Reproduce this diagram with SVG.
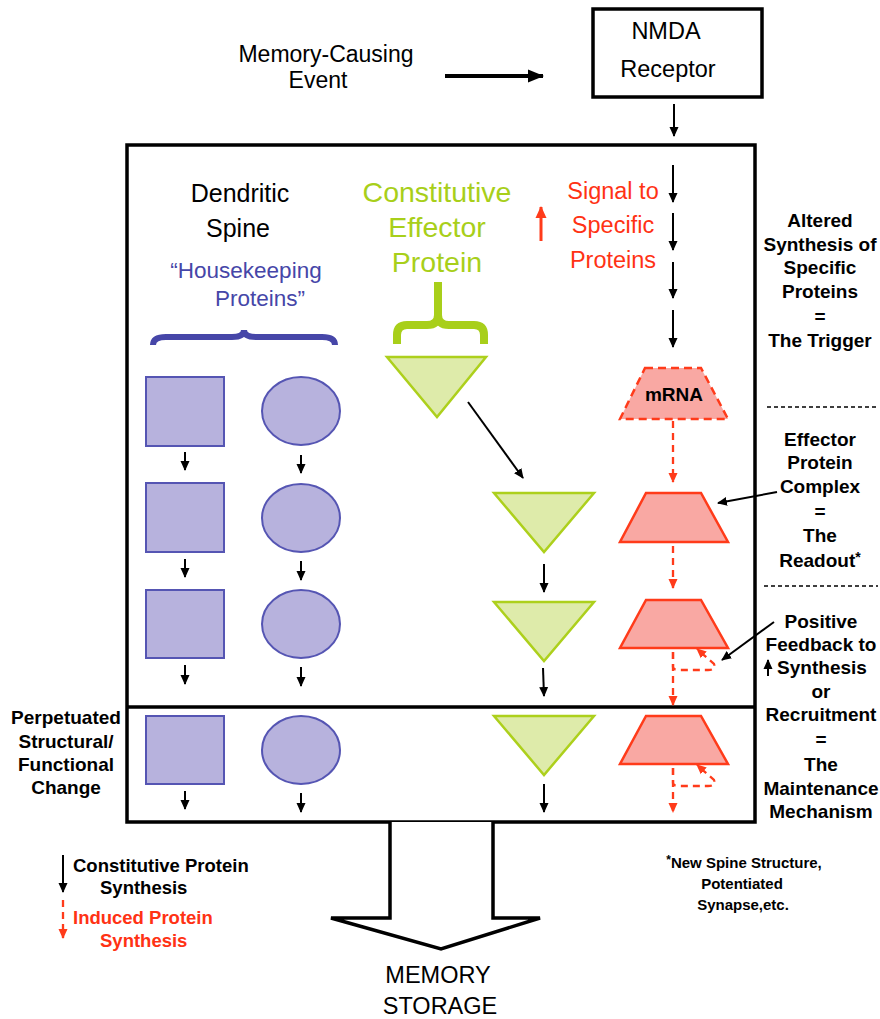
<svg xmlns="http://www.w3.org/2000/svg" width="880" height="1019" viewBox="0 0 880 1019">
<defs>
<marker id="ah" markerUnits="userSpaceOnUse" markerWidth="10" markerHeight="10" refX="9" refY="5" orient="auto"><path d="M0,0.5 L10,5 L0,9.5 z" fill="#000"/></marker>
<marker id="ahb" markerUnits="userSpaceOnUse" markerWidth="16" markerHeight="14" refX="15" refY="7" orient="auto"><path d="M0,0.5 L16,7 L0,13.5 z" fill="#000"/></marker>
<marker id="ahr" markerUnits="userSpaceOnUse" markerWidth="10" markerHeight="10" refX="9" refY="5" orient="auto"><path d="M0,0.5 L10,5 L0,9.5 z" fill="#FF3B1A"/></marker>
<marker id="ahr2" markerUnits="userSpaceOnUse" markerWidth="12" markerHeight="12" refX="11" refY="6" orient="auto"><path d="M0,0.5 L12,6 L0,11.5 z" fill="#FF3B1A"/></marker>
</defs>
<style>
.t{font-family:"Liberation Sans",Arial,sans-serif;text-anchor:middle}
.b{font-weight:bold;font-size:19px;fill:#000}
.box{fill:none;stroke:#000;stroke-width:3.5}
.sq{fill:#B7B2DD;stroke:#5555B3;stroke-width:2}
.tri{fill:#DEEBAA;stroke:#ADD01C;stroke-width:2.5}
.trap{fill:#F9A8A3;stroke:#FF3B1A;stroke-width:2.5}
.a{stroke:#000;stroke-width:2;fill:none;marker-end:url(#ah)}
.ra{stroke:#FF3B1A;stroke-width:2.3;fill:none;stroke-dasharray:7,5;marker-end:url(#ahr)}
.dl{stroke:#000;stroke-width:1.3;stroke-dasharray:4,3}
</style>
<rect width="880" height="1019" fill="#fff"/>

<g id="event">
<text class="t" x="326" y="62" font-size="23">Memory-Causing</text>
<text class="t" x="318" y="88" font-size="23">Event</text>
</g>
<g id="nmda">
<rect x="593" y="9" width="169" height="88" class="box" stroke-width="3"/>
<text class="t" x="666" y="39" font-size="23.5">NMDA</text>
<text class="t" x="668" y="77" font-size="23.5">Receptor</text>
</g>

<g id="mainbox">
<rect x="127" y="145" width="628" height="677" class="box"/>
<line x1="127" y1="707" x2="755" y2="707" stroke="#000" stroke-width="3.5"/>
</g>

<g id="headers">
<text class="t" x="240" y="202" font-size="25">Dendritic</text>
<text class="t" x="238" y="237" font-size="25">Spine</text>
<text class="t" x="246" y="278" font-size="22.5" fill="#4646A8">“Housekeeping</text>
<text class="t" x="260" y="306" font-size="22.5" fill="#4646A8">Proteins”</text>
<text class="t" x="437" y="202" font-size="28.5" fill="#A8CF1A">Constitutive</text>
<text class="t" x="437" y="237" font-size="28.5" fill="#A8CF1A">Effector</text>
<text class="t" x="437" y="272" font-size="28.5" fill="#A8CF1A">Protein</text>
<text class="t" x="613" y="199" font-size="23.5" fill="#FF3214">Signal to</text>
<text class="t" x="613" y="233" font-size="23.5" fill="#FF3214">Specific</text>
<text class="t" x="613" y="268" font-size="23.5" fill="#FF3214">Proteins</text>
<line x1="541" y1="241" x2="541" y2="207" stroke="#FF3B1A" stroke-width="3" marker-end="url(#ahr2)"/>
</g>

<g id="braces" fill="none">
<path d="M153,345 Q153,337 166,337 L232,337 Q244,337 244,330 Q244,337 256,337 L322,337 Q335,337 335,345" stroke="#4646A8" stroke-width="6"/>
<path d="M438,282 V315 Q438,325 427,325 H407 Q397,325 397,335 V344 M438,315 Q438,325 449,325 H474 Q484,325 484,335 V344" stroke="#A8CF1A" stroke-width="8"/>
</g>

<g id="squares">
<rect class="sq" x="146" y="377" width="78" height="69"/>
<rect class="sq" x="146" y="483" width="78" height="69"/>
<rect class="sq" x="146" y="590" width="78" height="68"/>
<rect class="sq" x="146" y="716" width="78" height="68"/>
</g>
<g id="ellipses">
<ellipse class="sq" cx="301" cy="411" rx="39" ry="34"/>
<ellipse class="sq" cx="301" cy="518" rx="39" ry="34"/>
<ellipse class="sq" cx="301" cy="624" rx="39" ry="34"/>
<ellipse class="sq" cx="301" cy="750" rx="39" ry="34"/>
</g>
<g id="triangles">
<polygon class="tri" points="387,357 486,357 437,417"/>
<polygon class="tri" points="494,493 594,493 544,552"/>
<polygon class="tri" points="494,602 594,602 544,661"/>
<polygon class="tri" points="494,716 594,716 544,775"/>
</g>
<g id="traps">
<polygon class="trap" points="645,368 701,368 728,419 620,419" stroke-dasharray="8,5"/>
<polygon class="trap" points="646,493 701,493 728,542 620,542"/>
<polygon class="trap" points="646,600 701,600 728,648 620,648"/>
<polygon class="trap" points="646,716 701,716 728,764 620,764"/>
<text class="t b" x="674" y="401">mRNA</text>
</g>

<g id="connectors">
<line x1="445" y1="76" x2="543" y2="76" stroke="#000" stroke-width="4" marker-end="url(#ahb)"/>
<line class="a" x1="674" y1="104" x2="674" y2="136"/>
<line class="a" x1="673" y1="165" x2="673" y2="202"/>
<line class="a" x1="673" y1="213" x2="673" y2="250"/>
<line class="a" x1="673" y1="262" x2="673" y2="298"/>
<line class="a" x1="673" y1="310" x2="673" y2="347"/>
<line class="a" x1="468" y1="402" x2="523" y2="478"/>
<line class="a" x1="544" y1="564" x2="544" y2="592"/>
<line class="a" x1="543" y1="668" x2="544" y2="696"/>
<line class="a" x1="544" y1="784" x2="544" y2="812"/>
<line class="a" x1="185" y1="452" x2="185" y2="470"/>
<line class="a" x1="185" y1="559" x2="185" y2="577"/>
<line class="a" x1="185" y1="665" x2="185" y2="684"/>
<line class="a" x1="185" y1="791" x2="185" y2="809"/>
<line class="a" x1="301" y1="455" x2="301" y2="473"/>
<line class="a" x1="301" y1="561" x2="301" y2="580"/>
<line class="a" x1="301" y1="667" x2="301" y2="686"/>
<line class="a" x1="301" y1="793" x2="301" y2="812"/>
<line class="ra" x1="673" y1="421" x2="673" y2="482"/>
<line class="ra" x1="673" y1="546" x2="673" y2="588"/>
<line class="ra" x1="673" y1="652" x2="673" y2="705"/>
<line class="ra" x1="673" y1="768" x2="673" y2="812"/>
<path class="ra" d="M673,652 V667 Q673,670 680,670 H708 Q716,670 714,664 L697,649"/>
<path class="ra" d="M673,768 V783 Q673,786 680,786 H708 Q716,786 714,780 L697,765"/>
<line class="a" x1="777" y1="492" x2="718" y2="503"/>
<line class="a" x1="774" y1="622" x2="722" y2="660"/>
<line class="dl" x1="767" y1="407" x2="878" y2="407"/>
<line class="dl" x1="764" y1="586" x2="878" y2="586"/>
</g>

<g id="trigger">
<text class="t b" x="820" y="227">Altered</text>
<text class="t b" x="820" y="251">Synthesis of</text>
<text class="t b" x="820" y="274">Specific</text>
<text class="t b" x="820" y="298">Proteins</text>
<text class="t b" x="820" y="323">=</text>
<text class="t b" x="820" y="347">The Trigger</text>
</g>
<g id="readout">
<text class="t b" x="820" y="446">Effector</text>
<text class="t b" x="820" y="469">Protein</text>
<text class="t b" x="820" y="493">Complex</text>
<text class="t b" x="820" y="518">=</text>
<text class="t b" x="820" y="542">The</text>
<text class="t b" x="820" y="567">Readout<tspan font-size="14" dy="-5">*</tspan></text>
</g>
<g id="maintenance">
<text class="t b" x="821" y="628">Positive</text>
<text class="t b" x="821" y="651">Feedback to</text>
<line x1="768" y1="676" x2="768" y2="660" stroke="#000" stroke-width="2" marker-end="url(#ah)"/>
<text class="t b" x="822" y="674">Synthesis</text>
<text class="t b" x="821" y="698">or</text>
<text class="t b" x="821" y="721">Recruitment</text>
<text class="t b" x="821" y="746">=</text>
<text class="t b" x="821" y="771">The</text>
<text class="t b" x="821" y="795">Maintenance</text>
<text class="t b" x="821" y="818">Mechanism</text>
</g>
<g id="perpetuated">
<text class="t b" x="66" y="724">Perpetuated</text>
<text class="t b" x="66" y="748">Structural/</text>
<text class="t b" x="66" y="771">Functional</text>
<text class="t b" x="66" y="794">Change</text>
</g>

<g id="legend">
<line class="a" x1="63" y1="855" x2="63" y2="892"/>
<line class="ra" x1="63" y1="900" x2="63" y2="938"/>
<text font-family="Liberation Sans,Arial,sans-serif" font-weight="bold" font-size="18.5" x="73" y="872">Constitutive Protein</text>
<text font-family="Liberation Sans,Arial,sans-serif" font-weight="bold" font-size="18.5" x="100" y="894">Synthesis</text>
<text font-family="Liberation Sans,Arial,sans-serif" font-weight="bold" font-size="18.5" x="73" y="924" fill="#FF3214">Induced Protein</text>
<text font-family="Liberation Sans,Arial,sans-serif" font-weight="bold" font-size="18.5" x="100" y="947" fill="#FF3214">Synthesis</text>
</g>

<g id="footnote">
<text class="t" font-weight="bold" font-size="15" x="744" y="868"><tspan font-size="12" dy="-4">*</tspan><tspan dy="4">New Spine Structure,</tspan></text>
<text class="t" font-weight="bold" font-size="15" x="742" y="889">Potentiated</text>
<text class="t" font-weight="bold" font-size="15" x="743" y="910">Synapse,etc.</text>
</g>

<g id="memory">
<path d="M390,822 V918 H331 L441,949 L540,918 H493 V822" fill="#fff" stroke="#000" stroke-width="3.5" stroke-linejoin="miter"/>
<text class="t" x="438" y="983" font-size="23.5">MEMORY</text>
<text class="t" x="440" y="1014" font-size="23.5">STORAGE</text>
</g>
</svg>
